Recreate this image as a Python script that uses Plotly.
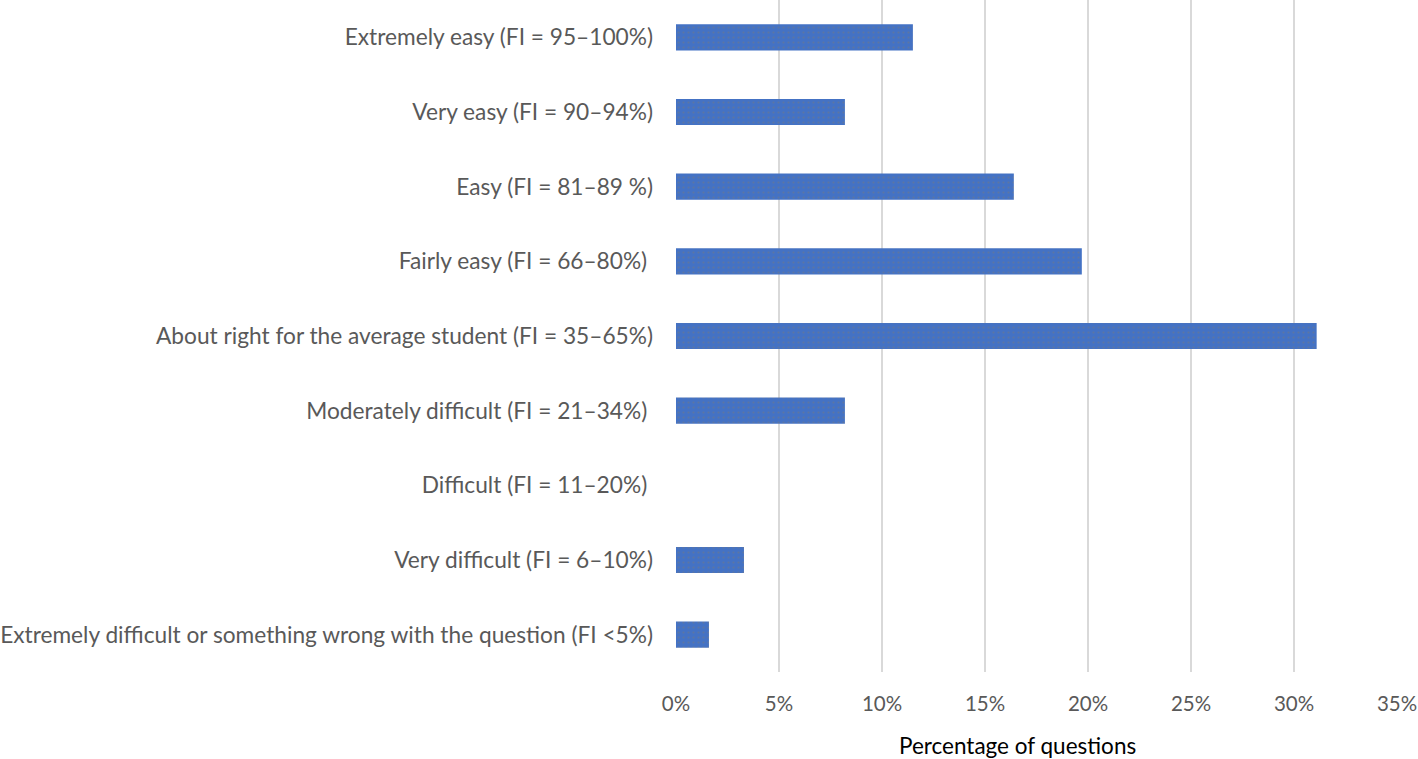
import plotly.graph_objects as go

categories = [
    "Extremely easy (FI = 95–100%)",
    "Very easy (FI = 90–94%)",
    "Easy (FI = 81–89 %)",
    "Fairly easy (FI = 66–80%)\u00a0",
    "About right for the average student (FI = 35–65%)",
    "Moderately difficult (FI = 21–34%)\u00a0",
    "Difficult (FI = 11–20%)\u00a0",
    "Very difficult (FI = 6–10%)",
    "Extremely difficult or something wrong with the question (FI <5%)",
]
values = [0.115, 0.082, 0.164, 0.197, 0.311, 0.082, 0.0, 0.033, 0.016]
tick_vals = [0, 0.05, 0.10, 0.15, 0.20, 0.25, 0.30, 0.35]
tick_text = ["0%", "5%", "10%", "15%", "20%", "25%", "30%", "35%"]

fig = go.Figure(go.Bar(
    x=values, y=categories, orientation="h", width=0.35,
    marker=dict(color="#4472C4", line=dict(width=0),
                pattern=dict(shape=".", fgcolor="#8a7a60", fgopacity=0.35, size=5, solidity=0.15)),
))

fig.update_layout(
    width=1418, height=759,
    margin=dict(l=676, r=21, t=0, b=87),
    plot_bgcolor="white", paper_bgcolor="white",
    font=dict(family="Lato, Open Sans, sans-serif", size=22.7, color="#595959"),
    showlegend=False,
    xaxis=dict(range=[0, 0.35], tickvals=tick_vals, ticktext=tick_text,
               tickfont=dict(size=20.5),
               showgrid=True, gridcolor="#d9d9d9", gridwidth=2, zeroline=False,
               showline=False, ticks="", ticklabelstandoff=17),
    yaxis=dict(categoryorder="array", categoryarray=categories, autorange="reversed",
               showgrid=False, zeroline=False, showline=False, ticks="",
               ticklabelstandoff=22),
    annotations=[dict(text="Percentage of questions", xref="paper", yref="paper",
                      x=0.474, y=-0.110, xanchor="center", yanchor="middle",
                      showarrow=False, font=dict(size=22.5, color="#000000"))],
)

fig.write_html("out.html", config={"displayModeBar": False},
               post_script="document.body.style.margin='0';document.body.style.padding='0';")
